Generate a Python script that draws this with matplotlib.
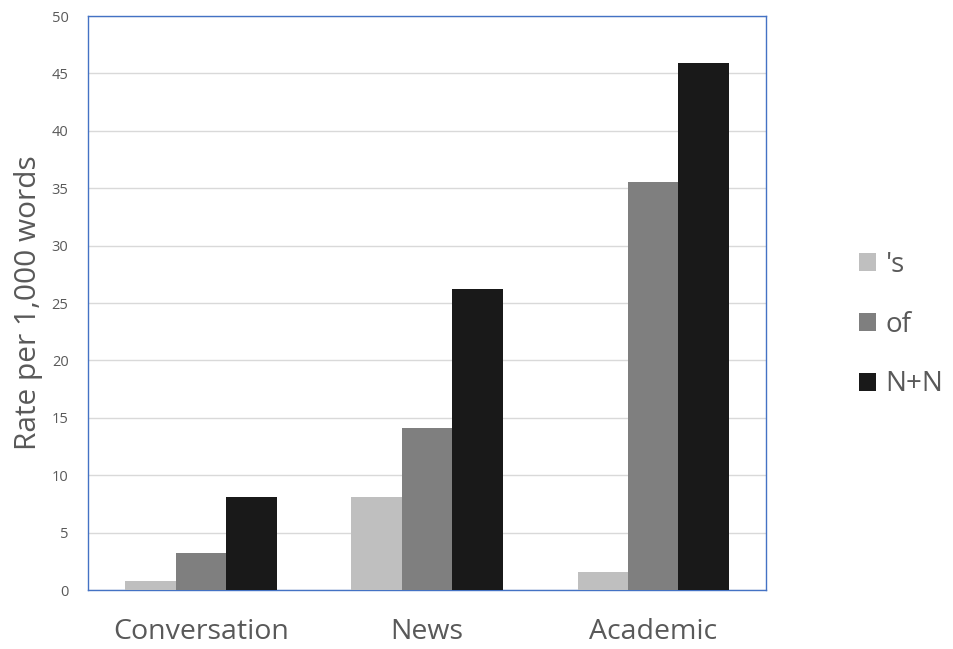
import numpy as np
import matplotlib.pyplot as plt
from matplotlib.patches import Patch

# Rates per 1,000 words by register
registers = ['Conversation', 'News', 'Academic']
series_names = ["'s", 'of', 'N+N']
genitive_s = [0.8, 8.1, 1.6]
of_phrase = [3.2, 14.1, 35.5]
noun_noun = [8.1, 26.2, 45.9]
y_ticks = [0, 5, 10, 15, 20, 25, 30, 35, 40, 45, 50]

colors = ['#bfbfbf', '#7f7f7f', '#191919']

plt.rcParams['font.family'] = ['Open Sans', 'DejaVu Sans']

fig = plt.figure(figsize=(9.54, 6.49), dpi=100)
ax = fig.add_axes([0.0922, 0.0909, 0.711, 0.8844])

x = np.arange(len(registers))
width = 0.223
for i, (vals, name) in enumerate(zip([genitive_s, of_phrase, noun_noun], series_names)):
    ax.bar(x + (i - 1) * width, vals, width, color=colors[i], label=name, zorder=3)

ax.set_xlim(-0.5, 2.5)
ax.set_ylim(0, 50)
ax.set_yticks(y_ticks)
ax.yaxis.grid(True, color='#d9d9d9', linewidth=1, zorder=0)
ax.set_axisbelow(True)

ax.set_xticks(x)
ax.set_xticklabels(registers, fontsize=20.5, color='#595959')
ax.tick_params(axis='x', length=0, pad=20)
ax.tick_params(axis='y', length=0, pad=14, labelsize=10.5, labelcolor='#595959')

ax.set_ylabel('Rate per 1,000 words', fontsize=21.5, color='#595959', labelpad=6)

for side in ax.spines.values():
    side.set_color('#4472c4')
    side.set_linewidth(1.0)

handles = [Patch(facecolor=c, edgecolor='none') for c in colors]
fig.legend(handles, series_names, loc='center left', bbox_to_anchor=(0.874, 0.5),
           frameon=False, fontsize=20, labelcolor='#595959',
           handlelength=0.62, handleheight=0.62, handletextpad=0.35, labelspacing=1.15)

fig.savefig('out.png', dpi=100)
